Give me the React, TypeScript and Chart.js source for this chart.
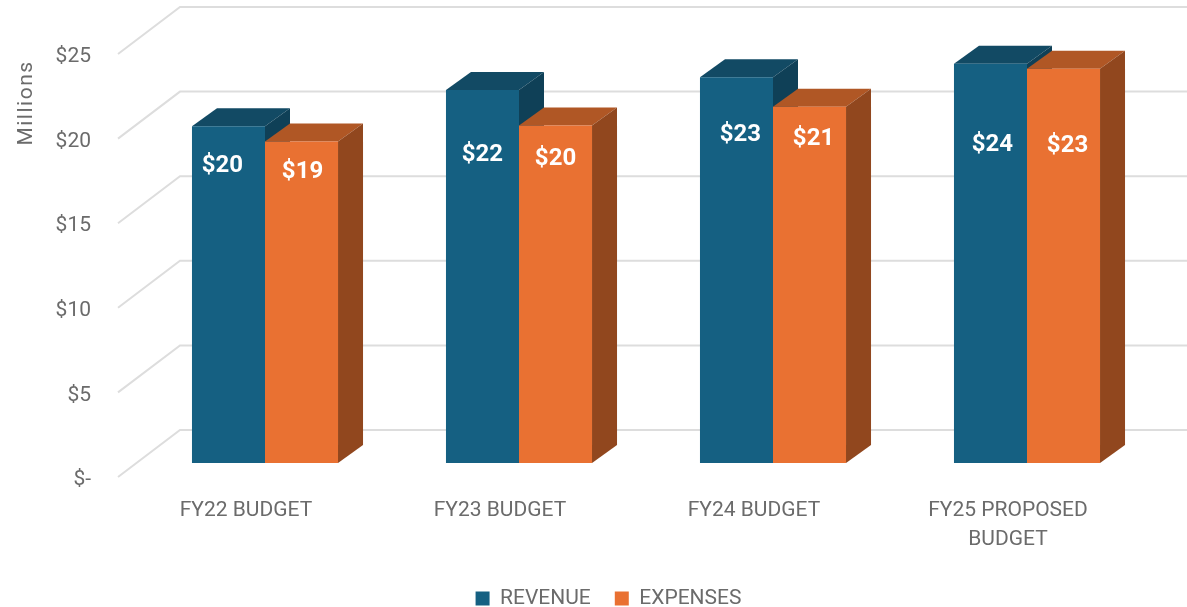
import React, { useEffect, useRef } from "react";
import { Chart, registerables } from "chart.js";

Chart.register(...registerables);

const categories = ["FY22 BUDGET", "FY23 BUDGET", "FY24 BUDGET", ["FY25 PROPOSED", "BUDGET"]];
const revenue = [19.9, 22.05, 22.8, 23.6];
const expenses = [19.0, 19.95, 21.05, 23.3];
const revenueLabels = ["$20", "$22", "$23", "$24"];
const expensesLabels = ["$19", "$20", "$21", "$23"];
// Heights (in $M on the value axis) at which the hand-placed data labels sit in the picture
const revenueLabelHeights = [17.57, 18.22, 19.37, 18.77];
const expensesLabelHeights = [17.17, 17.95, 19.15, 18.72];
const yTicks = [0, 5, 10, 15, 20, 25];
const axisTitle = "Millions";
const FONT = "Roboto, 'Liberation Sans', sans-serif";
const TEXT = "#6b6b6b";

const DEPTH_X = 25;
const DEPTH_Y = 18;
const WALL_Y = 33;
const SIDE = 62;
const SIDE_Y = 47;

const shades = [
  { top: "#124A64", side: "#0F4057" },
  { top: "#B05725", side: "#91471E" },
];
const labelSets = [
  { text: revenueLabels, heights: revenueLabelHeights, dx: [-6, 0, 4, 2] },
  { text: expensesLabels, heights: expensesLabelHeights, dx: [1, 0, 4, 4] },
];

const depthPlugin = {
  id: "depth",
  beforeDatasetsDraw(chart: any) {
    const { ctx, scales } = chart;
    const y = scales.y;
    ctx.save();
    ctx.strokeStyle = "#DDDDDD";
    ctx.lineWidth = 2;
    y.ticks.forEach((t: any) => {
      const py = y.getPixelForValue(t.value) - WALL_Y;
      ctx.beginPath();
      ctx.moveTo(chart.width, py);
      ctx.lineTo(180, py);
      ctx.lineTo(180 - SIDE, py + SIDE_Y);
      ctx.stroke();
    });
    chart.data.datasets.forEach((_: any, i: number) => {
      chart.getDatasetMeta(i).data.forEach((bar: any) => {
        const { x, y: top, base, width } = bar.getProps(["x", "y", "base", "width"]);
        const l = x - width / 2;
        const r = x + width / 2;
        ctx.fillStyle = shades[i].top;
        ctx.beginPath();
        ctx.moveTo(l, top);
        ctx.lineTo(l + DEPTH_X, top - DEPTH_Y);
        ctx.lineTo(r + DEPTH_X, top - DEPTH_Y);
        ctx.lineTo(r, top);
        ctx.closePath();
        ctx.fill();
        ctx.fillStyle = shades[i].side;
        ctx.beginPath();
        ctx.moveTo(r, top);
        ctx.lineTo(r + DEPTH_X, top - DEPTH_Y);
        ctx.lineTo(r + DEPTH_X, base - DEPTH_Y);
        ctx.lineTo(r, base);
        ctx.closePath();
        ctx.fill();
      });
    });
    ctx.restore();
  },
  afterDatasetsDraw(chart: any) {
    const { ctx, scales } = chart;
    ctx.save();
    ctx.fillStyle = "#FFFFFF";
    ctx.font = `bold 24px ${FONT}`;
    ctx.textAlign = "center";
    ctx.textBaseline = "middle";
    chart.data.datasets.forEach((_: any, i: number) => {
      chart.getDatasetMeta(i).data.forEach((bar: any, j: number) => {
        const set = labelSets[i];
        ctx.fillText(set.text[j], bar.x + set.dx[j], scales.y.getPixelForValue(set.heights[j]));
      });
    });
    ctx.fillStyle = TEXT;
    ctx.font = `21px ${FONT}`;
    (ctx as any).letterSpacing = "1.5px";
    ctx.translate(27, 103);
    ctx.rotate(-Math.PI / 2);
    ctx.fillText(axisTitle, 0, 0);
    ctx.restore();
  },
};

export default function App() {
  const ref = useRef<HTMLCanvasElement>(null);
  useEffect(() => {
    document.body.style.margin = "0";
    const chart = new Chart(ref.current!, {
      type: "bar",
      data: {
        labels: categories as any,
        datasets: [
          { label: "REVENUE", data: revenue, backgroundColor: "#156082" },
          { label: "EXPENSES", data: expenses, backgroundColor: "#E97132" },
        ],
      },
      options: {
        animation: false,
        responsive: false,
        layout: { padding: { top: 40, right: 33, left: 63, bottom: -12 } },
        datasets: { bar: { categoryPercentage: 0.575, barPercentage: 1 } },
        plugins: {
          tooltip: { enabled: false },
          legend: {
            position: "bottom",
            labels: {
              boxWidth: 14,
              boxHeight: 14,
              padding: 24,
              color: TEXT,
              font: { family: FONT, size: 21 },
            },
          },
        },
        scales: {
          x: {
            grid: { display: false },
            border: { display: false },
            afterFit: (s: any) => { s.height = 101; s.paddingLeft = 0; s.paddingRight = 0; },
            ticks: {
              color: TEXT,
              font: { family: FONT, size: 21, lineHeight: 1.4 },
              labelOffset: -19,
              padding: 25,
              maxRotation: 0,
              autoSkip: false,
            },
          },
          y: {
            min: 0,
            max: 25,
            grid: { display: false },
            border: { display: false },
            afterFit: (s: any) => {
              s.width = 75;
              s.paddingTop = 0;
              s.paddingBottom = 0;
              // tick labels sit left of the shifted axis box, so they must not be clipped to it
              s._computeLabelArea = () => undefined;
            },
            afterBuildTicks: (s: any) => { s.ticks = yTicks.map((value) => ({ value })); },
            ticks: {
              color: TEXT,
              font: { family: FONT, size: 21 },
              labelOffset: 17,
              padding: 39,
              callback: (v: any) => (Number(v) === 0 ? "$-" : `$${v}`),
            },
          },
        },
      },
      plugins: [depthPlugin],
    } as any);
    return () => chart.destroy();
  }, []);
  return (
    <div style={{ position: "absolute", left: 0, top: 0, width: 1187, height: 607, background: "#fff" }}>
      <canvas ref={ref} width={1187} height={607} style={{ display: "block" }} />
    </div>
  );
}
